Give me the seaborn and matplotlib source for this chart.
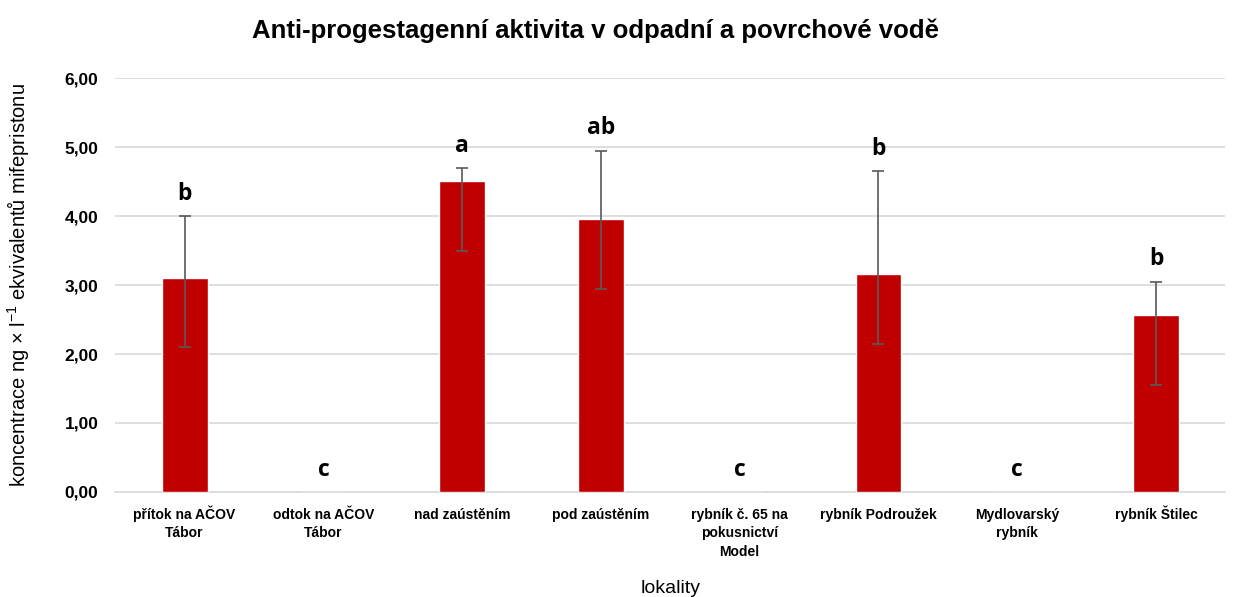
import matplotlib
matplotlib.use("Agg")
import matplotlib.pyplot as plt
import seaborn as sns
import numpy as np
import pandas as pd
from matplotlib.ticker import FuncFormatter

categories = ["přítok na AČOV\nTábor", "odtok na AČOV\nTábor", "nad zaústěním",
              "pod zaústěním", "rybník č. 65 na\npokusnictví\nModel", "rybník Podroužek",
              "Mydlovarský\nrybník", "rybník Štilec"]
values = [3.10, 0.0, 4.51, 3.96, 0.0, 3.16, 0.0, 2.56]
err_low = [1.00, 0.0, 1.01, 1.02, 0.0, 1.02, 0.0, 1.01]
err_high = [0.90, 0.0, 0.19, 0.99, 0.0, 1.49, 0.0, 0.49]
letters = ["b", "c", "a", "ab", "c", "b", "c", "b"]

sns.set_theme(style="white")
plt.rcParams['font.family'] = ['Liberation Sans', 'DejaVu Sans']
plt.rcParams['text.color'] = 'black'
plt.rcParams['axes.labelcolor'] = 'black'
plt.rcParams['mathtext.fontset'] = 'custom'
plt.rcParams['mathtext.rm'] = 'Liberation Sans'
plt.rcParams['mathtext.default'] = 'regular'

fig = plt.figure(figsize=(12.39, 5.97), dpi=100)
ax = fig.add_axes([0.093, 0.176, 0.896, 0.693])

df = pd.DataFrame({"cat": categories, "val": values})
sns.barplot(data=df, x="cat", y="val", color="#C00000", saturation=1, width=0.33, ax=ax, zorder=3)

x = np.arange(len(categories))
mask = np.array(values) > 0
ax.errorbar(x[mask], np.array(values)[mask],
            yerr=[np.array(err_low)[mask], np.array(err_high)[mask]],
            fmt="none", ecolor="#595959", elinewidth=1.2, capsize=4, capthick=1.2, zorder=4)

for i, (v, eh, l) in enumerate(zip(values, err_high, letters)):
    ax.text(i, v + eh + 0.15, l, ha="center", va="bottom", fontsize=16.5, fontweight="bold",
            color="black", family=['Open Sans', 'DejaVu Sans'])

ax.set_ylim(0, 6)
ax.set_xlim(-0.5, 7.5)
ax.set_yticks(np.arange(0, 6.01, 1))
ax.yaxis.set_major_formatter(FuncFormatter(lambda v, p: f"{v:.2f}".replace(".", ",")))
ax.grid(axis="y", color="#D9D9D9", linewidth=1.2, zorder=0)
ax.set_axisbelow(True)
for s in ["top", "right", "left"]:
    ax.spines[s].set_visible(False)
ax.spines["bottom"].set_color("#D9D9D9")
ax.spines["bottom"].set_linewidth(1.2)
ax.tick_params(axis="both", length=0, colors="black")
ax.tick_params(axis="y", pad=12, labelsize=12.5)
for t in ax.get_yticklabels():
    t.set_fontweight("bold")

# category labels: each line on a common baseline grid
ax.set_xticks(x)
ax.set_xticklabels([""] * len(categories))
for i, cat in enumerate(categories):
    for j, line in enumerate(cat.split("\n")):
        ax.annotate(line, xy=(i, 0), xycoords=("data", "axes fraction"),
                    xytext=(0, -27 - 18.5 * j), textcoords="offset pixels",
                    ha="center", va="baseline", fontsize=10, fontweight="bold", color="black")

ax.set_xlabel("lokality", fontsize=14)
ax.xaxis.set_label_coords(0.5, -0.212)
ax.xaxis.label.set_va("top")
ax.set_ylabel(r"koncentrace ng × l$^{-1}$ ekvivalentů mifepristonu", fontsize=14.5)
ax.yaxis.set_label_coords(-0.076, 0.5)

fig.text(0.481, 0.948, "Anti-progestagenní aktivita v odpadní a povrchové vodě",
         ha="center", va="center", fontsize=18.5, fontweight="bold")

fig.savefig("out.png", dpi=100)
